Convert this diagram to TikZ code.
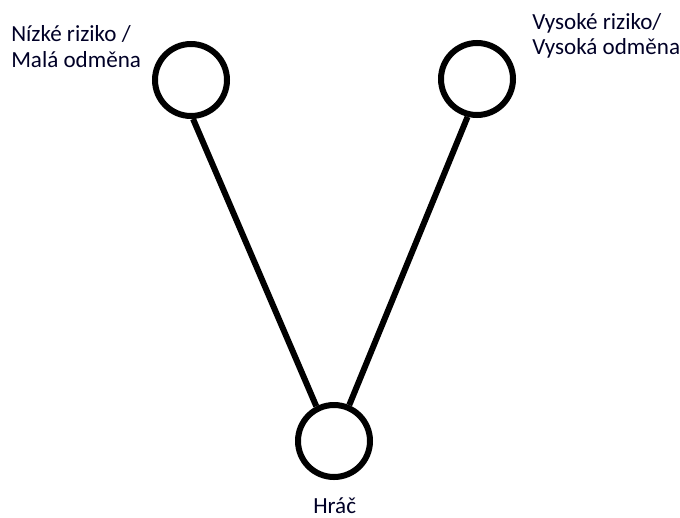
\documentclass[tikz,border=0pt]{standalone}
\usepackage{fontspec}
\setmainfont{Carlito}
\begin{document}
\begin{tikzpicture}[x=0.75pt,y=-0.75pt,
  ball/.style={circle,draw=black,line width=4.5pt,minimum size=54pt,inner sep=0pt},
  conn/.style={line width=4.5pt,black},
  lbl/.style={font=\fontsize{17.3pt}{19.2pt}\selectfont,align=left,inner sep=0pt,text=black!85!blue}]
\useasboundingbox (0,0) rectangle (680,517);
\node[ball] (low) at (191,80) {};
\node[ball] (high) at (477,79) {};
\node[ball] (player) at (334,441) {};
\draw[conn] (low.-87) -- (player.117);
\draw[conn] (high.-104) -- (player.67);
\node[lbl,anchor=base west] (lowt) at (11,67.5) {Nízké riziko /\\Malá odměna};
\node[lbl,anchor=base west] (hight) at (532,55) {Vysoké riziko/\\Vysoká odměna};
\node[lbl,anchor=base west] (playert) at (313,513) {Hráč};
\end{tikzpicture}
\end{document}
